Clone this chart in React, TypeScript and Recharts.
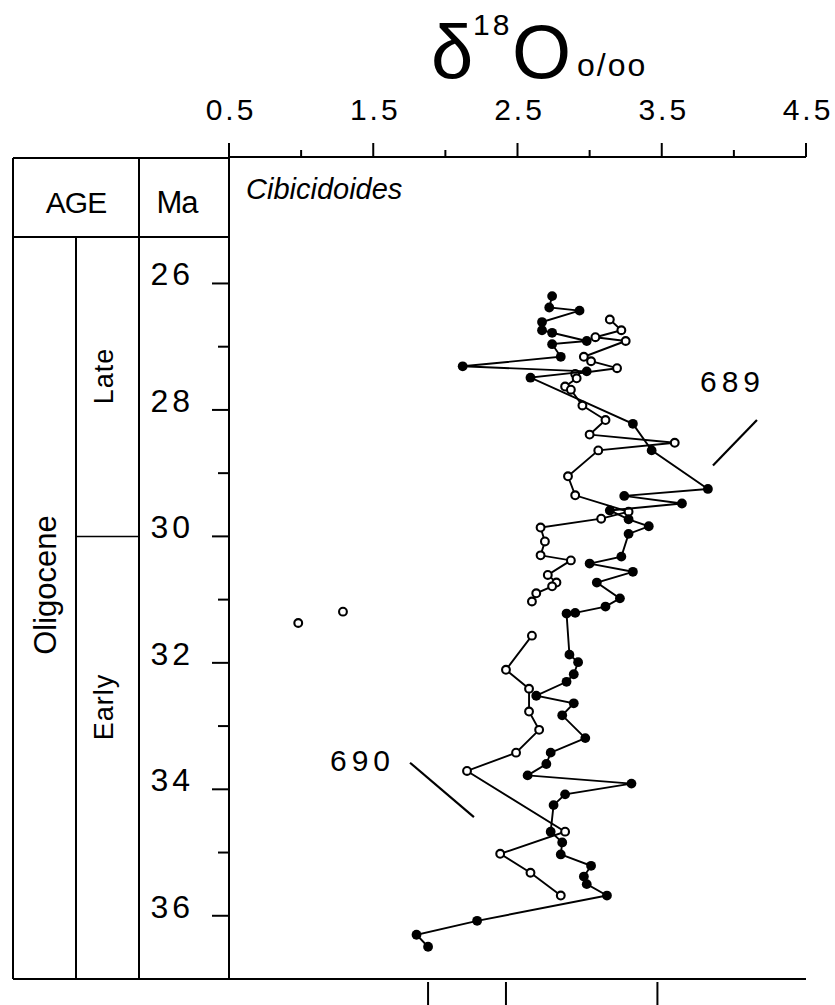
import React from 'react';
import { ComposedChart, Scatter, XAxis, YAxis, ReferenceLine } from 'recharts';

// ---------- data ----------
// [δ18O (‰), age (Ma)]
const site689: [number, number][] = [
  [2.74, 26.2], [2.72, 26.38], [2.93, 26.43], [2.67, 26.61], [2.67, 26.74],
  [2.74, 26.78], [2.98, 26.91], [2.74, 26.96], [2.8, 27.16], [2.12, 27.31],
  [2.98, 27.39], [2.59, 27.49], [3.3, 28.22], [3.43, 28.64], [3.82, 29.25],
  [3.24, 29.36], [3.64, 29.48], [3.14, 29.59], [3.27, 29.73], [3.41, 29.84],
  [3.27, 29.96], [3.22, 30.32], [3.0, 30.43], [3.3, 30.56], [3.05, 30.73],
  [3.21, 30.98], [3.11, 31.11], [2.9, 31.21], [2.84, 31.22], [2.86, 31.87],
  [2.92, 31.99], [2.89, 32.18], [2.84, 32.3], [2.63, 32.52], [2.89, 32.64],
  [2.81, 32.83], [2.97, 33.19], [2.73, 33.42], [2.7, 33.6], [2.57, 33.78],
  [3.29, 33.91], [2.83, 34.08], [2.75, 34.25], [2.73, 34.67], [2.81, 34.84],
  [2.8, 35.03], [3.01, 35.21], [2.96, 35.38], [2.98, 35.5], [3.12, 35.68],
  [2.22, 36.08], [1.8, 36.3], [1.88, 36.49],
];

const site690Upper: [number, number][] = [
  [3.14, 26.57], [3.22, 26.74], [3.04, 26.85], [3.25, 26.91], [2.96, 27.16],
  [3.01, 27.23], [3.19, 27.34], [2.9, 27.43], [2.91, 27.5], [2.83, 27.63],
  [2.87, 27.68], [2.95, 27.93], [3.11, 28.16], [3.0, 28.39], [3.59, 28.52],
  [3.06, 28.64], [2.85, 29.05], [2.9, 29.35], [3.27, 29.61], [3.08, 29.72],
  [2.66, 29.86], [2.69, 30.08], [2.66, 30.3], [2.87, 30.38], [2.71, 30.61],
  [2.77, 30.73], [2.74, 30.79], [2.63, 30.9], [2.6, 31.03],
];

const site690Lower: [number, number][] = [
  [2.6, 31.57], [2.42, 32.11], [2.58, 32.41], [2.58, 32.77], [2.65, 33.06],
  [2.49, 33.42], [2.15, 33.71], [2.83, 34.67], [2.38, 35.02], [2.59, 35.32],
  [2.8, 35.68],
];

const site690Outliers: [number, number][] = [
  [0.98, 31.37], [1.29, 31.19],
];

const xTicks = [0.5, 1.0, 1.5, 2.0, 2.5, 3.0, 3.5, 4.0, 4.5];
const xLabelTicks = [0.5, 1.5, 2.5, 3.5, 4.5];
const bottomTicks = [1.88, 2.42, 3.47];
const ageTicks = [26, 27, 28, 29, 30, 31, 32, 33, 34, 35, 36];
const ageLabelTicks = [26, 28, 30, 32, 34, 36];

const siteLabels = ['689', '690'];
const siteLabelPos: [number, number][] = [[3.765, 27.72], [1.2, 33.71]];
const siteLeaders: [number, number][][] = [
  [[4.16, 28.16], [3.855, 28.88]],
  [[1.755, 33.58], [2.198, 34.44]],
];

const epochBoundaryMa = 30;

// ---------- layout ----------
const W = 835;
const H = 1005;
const PLOT = { left: 229, right: 806, top: 157, bottom: 979 };
const X_DOMAIN: [number, number] = [0.5, 4.5];
const AGE_DOMAIN: [number, number] = [24, 37];
const TOP_AXIS_H = 60;
const LEFT_AXIS_W = 90;
const BOTTOM_AXIS_H = 26;
const FONT = '"Liberation Sans", Arial, Helvetica, sans-serif';

const toPts = (arr: [number, number][]) => arr.map(([d, a]) => ({ x: d, y: a }));

const xPix = (v: number) =>
  PLOT.left + ((v - X_DOMAIN[0]) / (X_DOMAIN[1] - X_DOMAIN[0])) * (PLOT.right - PLOT.left);
const yPix = (a: number) =>
  PLOT.top + ((a - AGE_DOMAIN[0]) / (AGE_DOMAIN[1] - AGE_DOMAIN[0])) * (PLOT.bottom - PLOT.top);

const isIn = (list: number[], v: number) => list.some((t) => Math.abs(t - v) < 1e-6);

const TopTick = (props: any) => {
  const { x, y, payload } = props;
  const major = isIn(xLabelTicks, payload.value);
  return (
    <g>
      <line x1={x} x2={x} y1={y} y2={y - (major ? 14 : 7)} stroke="#000" strokeWidth={2} />
      {major && (
        <text x={x + 2} y={y - 37} textAnchor="middle" fontSize={30} letterSpacing={3}
          fontFamily={FONT} fill="#000">
          {Number(payload.value).toFixed(1)}
        </text>
      )}
    </g>
  );
};

const BottomTick = (props: any) => {
  const { x, y } = props;
  return <line x1={x} x2={x} y1={y + 3} y2={y + 26} stroke="#000" strokeWidth={2} />;
};

const AgeTick = (props: any) => {
  const { x, y, payload } = props;
  const major = isIn(ageLabelTicks, payload.value);
  return (
    <g>
      <line x1={x - (major ? 17 : 11)} x2={x} y1={y} y2={y} stroke="#000" strokeWidth={2} />
      {major && (
        <text x={x - 35} y={y + 2} textAnchor="end" fontSize={32} letterSpacing={4}
          fontFamily={FONT} fill="#000">
          {payload.value}
        </text>
      )}
    </g>
  );
};

const FilledDot = (props: any) => {
  const { cx, cy } = props;
  if (cx == null || cy == null) return <g />;
  return <circle cx={cx} cy={cy} r={4.9} fill="#000" />;
};

const OpenDot = (props: any) => {
  const { cx, cy } = props;
  if (cx == null || cy == null) return <g />;
  return <circle cx={cx} cy={cy} r={3.9} fill="#fff" stroke="#000" strokeWidth={2.1} />;
};

const lineStyle = { stroke: '#000', strokeWidth: 1.9 };

const Overlay = () => {
  const tblL = 13;
  const colA = 76;
  const colB = 139;
  const tblTop = 158;
  const hdrBottom = 237;
  const yb = yPix(epochBoundaryMa);
  const sw = 2;
  return (
    <svg width={W} height={H} style={{ position: 'absolute', left: 0, top: 0, pointerEvents: 'none' }}>
      {/* title */}
      <text x={431} y={78} fontSize={76} fontFamily={FONT} fill="#000">δ</text>
      <text x={473} y={35} fontSize={30} letterSpacing={3} fontFamily={FONT} fill="#000">18</text>
      <text x={512} y={78} fontSize={76} fontFamily={FONT} fill="#000">O</text>
      <text x={577} y={76} fontSize={32} letterSpacing={2} fontFamily={FONT} fill="#000">o/oo</text>

      {/* left table */}
      <line x1={tblL} x2={PLOT.left} y1={tblTop} y2={tblTop} stroke="#000" strokeWidth={sw} />
      <line x1={tblL} x2={PLOT.left} y1={hdrBottom} y2={hdrBottom} stroke="#000" strokeWidth={sw} />
      <line x1={tblL} x2={PLOT.left} y1={PLOT.bottom} y2={PLOT.bottom} stroke="#000" strokeWidth={sw} />
      <line x1={tblL} x2={tblL} y1={tblTop} y2={PLOT.bottom} stroke="#000" strokeWidth={sw} />
      <line x1={colA} x2={colA} y1={hdrBottom} y2={PLOT.bottom} stroke="#000" strokeWidth={sw} />
      <line x1={colB} x2={colB} y1={tblTop} y2={PLOT.bottom} stroke="#000" strokeWidth={sw} />
      <line x1={colA} x2={colB} y1={yb} y2={yb} stroke="#000" strokeWidth={1.5} />

      <text x={(tblL + colB) / 2} y={213} textAnchor="middle" fontSize={30} fontFamily={FONT}
        letterSpacing={-1} fill="#000">AGE</text>
      <text x={177} y={213} textAnchor="middle" fontSize={31} fontFamily={FONT}
        letterSpacing={-1} fill="#000">Ma</text>

      <text x={45} y={585} transform="rotate(-90 45 585)" textAnchor="middle"
        dominantBaseline="central" fontSize={31} fontFamily={FONT} fill="#000">Oligocene</text>
      <text x={104} y={376} transform="rotate(-90 104 376)" textAnchor="middle"
        dominantBaseline="central" fontSize={27} letterSpacing={1} fontFamily={FONT} fill="#000">Late</text>
      <text x={104} y={707} transform="rotate(-90 104 707)" textAnchor="middle"
        dominantBaseline="central" fontSize={27} letterSpacing={1} fontFamily={FONT} fill="#000">Early</text>

      {/* species label */}
      <text x={246} y={199} fontSize={29} fontStyle="italic" fontFamily={FONT} fill="#000">Cibicidoides</text>

      {/* site labels */}
      {siteLabels.map((s, i) => (
        <text key={s} x={xPix(siteLabelPos[i][0])} y={yPix(siteLabelPos[i][1])} fontSize={30}
          letterSpacing={5} fontFamily={FONT} fill="#000">{s}</text>
      ))}
    </svg>
  );
};

export default function App() {
  return (
    <div style={{ position: 'absolute', left: 0, top: 0, width: W, height: H, background: '#fff' }}>
      <ComposedChart
        width={W}
        height={H}
        margin={{
          top: PLOT.top - TOP_AXIS_H,
          left: PLOT.left - LEFT_AXIS_W,
          right: W - PLOT.right,
          bottom: H - PLOT.bottom - BOTTOM_AXIS_H,
        }}
      >
        <XAxis xAxisId="top" type="number" dataKey="x" orientation="top" domain={X_DOMAIN}
          ticks={xTicks} interval={0} height={TOP_AXIS_H} tickSize={0} tickMargin={0}
          tickLine={false} tick={<TopTick />} axisLine={{ stroke: '#000', strokeWidth: 2 }}
          allowDataOverflow />
        <XAxis xAxisId="bottom" type="number" dataKey="x" orientation="bottom" domain={X_DOMAIN}
          ticks={bottomTicks} interval={0} height={BOTTOM_AXIS_H} tickSize={0} tickMargin={0}
          tickLine={false} tick={<BottomTick />} axisLine={{ stroke: '#000', strokeWidth: 2 }}
          allowDataOverflow />
        <YAxis yAxisId="left" type="number" dataKey="y" domain={AGE_DOMAIN} reversed
          ticks={ageTicks} interval={0} width={LEFT_AXIS_W} tickSize={0} tickMargin={0}
          tickLine={false} tick={<AgeTick />} axisLine={{ stroke: '#000', strokeWidth: 2 }}
          allowDataOverflow />
        <YAxis yAxisId="right" type="number" dataKey="y" orientation="right" domain={AGE_DOMAIN}
          reversed width={0} tick={false} tickLine={false}
          axisLine={{ stroke: '#000', strokeWidth: 2 }} allowDataOverflow />

        {siteLeaders.map((seg, i) => (
          <ReferenceLine key={i} xAxisId="top" yAxisId="left" ifOverflow="visible"
            segment={[{ x: seg[0][0], y: seg[0][1] }, { x: seg[1][0], y: seg[1][1] }]}
            stroke="#000" strokeWidth={2.2} />
        ))}

        <Scatter name="690 upper" xAxisId="top" yAxisId="left" data={toPts(site690Upper)}
          line={lineStyle} lineType="joint" shape={OpenDot} isAnimationActive={false} />
        <Scatter name="690 lower" xAxisId="top" yAxisId="left" data={toPts(site690Lower)}
          line={lineStyle} lineType="joint" shape={OpenDot} isAnimationActive={false} />
        <Scatter name="689" xAxisId="top" yAxisId="left" data={toPts(site689)}
          line={lineStyle} lineType="joint" shape={FilledDot} isAnimationActive={false} />
        <Scatter name="690 outliers" xAxisId="top" yAxisId="left" data={toPts(site690Outliers)}
          shape={OpenDot} isAnimationActive={false} />
      </ComposedChart>
      <Overlay />
    </div>
  );
}
